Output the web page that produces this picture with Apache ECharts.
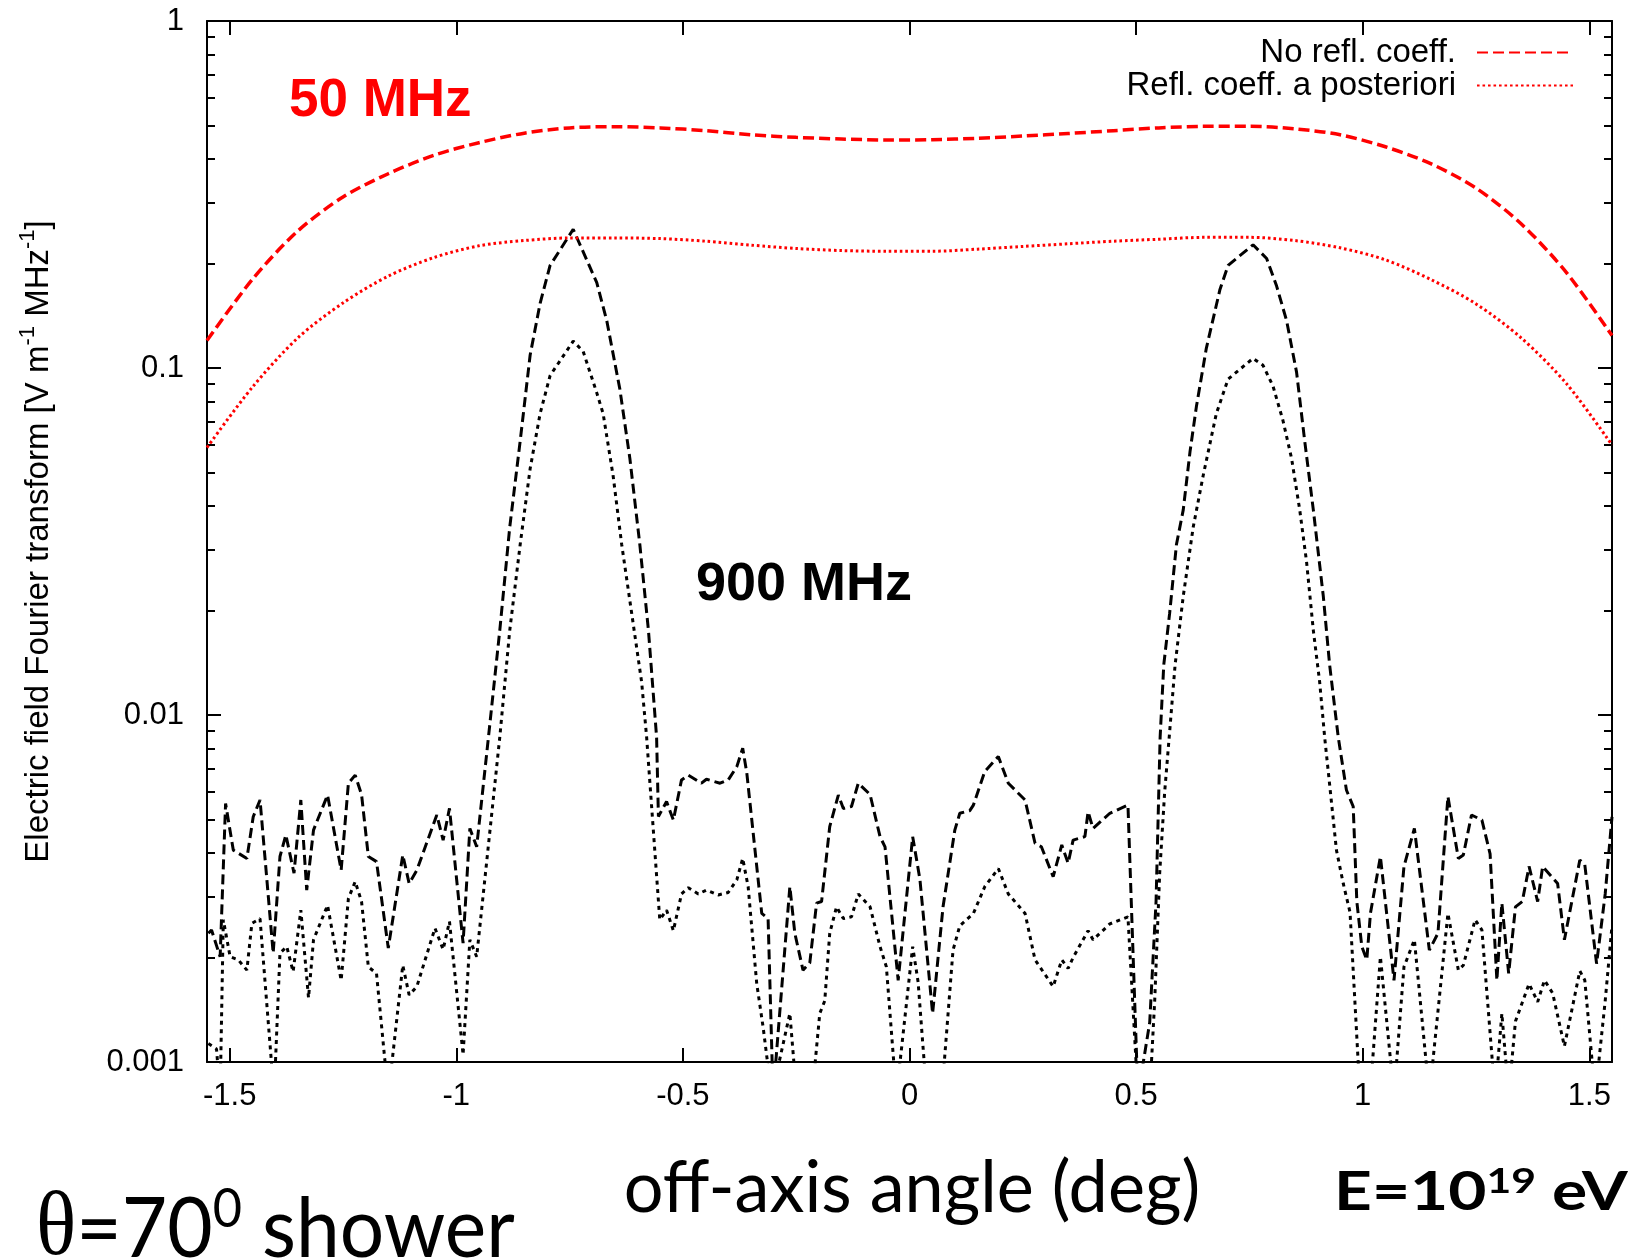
<!DOCTYPE html>
<html>
<head>
<meta charset="utf-8">
<script src="https://cdn.jsdelivr.net/npm/echarts@6/dist/echarts.min.js"></script>
<style>
html,body{margin:0;padding:0;background:#ffffff;}
#chart{width:1630px;height:1258px;}
</style>
</head>
<body>
<div id="chart"></div>
<script>
// ---------------- data ----------------
const xTickValues = [-1.5, -1, -0.5, 0, 0.5, 1, 1.5];
const yMajorTicks = [0.001, 0.01, 0.1, 1];
const yTickLabels = ['0.001', '0.01', '0.1', '1'];
const yMinorTicks = [0.002,0.003,0.004,0.005,0.006,0.007,0.008,0.009,
                     0.02,0.03,0.04,0.05,0.06,0.07,0.08,0.09,
                     0.2,0.3,0.4,0.5,0.6,0.7,0.8,0.9];

// 50 MHz curves (smooth)
const angle50 = [-1.55,-1.45,-1.35,-1.25,-1.15,-1.05,-0.95,-0.85,-0.75,-0.65,-0.55,-0.45,-0.35,-0.25,-0.15,-0.05,
                 0.05,0.15,0.25,0.35,0.45,0.55,0.65,0.75,0.85,0.95,1.05,1.15,1.25,1.35,1.45,1.55];
const noRefl50 = [0.120,0.180,0.248,0.311,0.363,0.410,0.446,0.475,0.492,0.496,0.492,0.483,0.470,0.462,0.457,0.454,
                  0.455,0.459,0.466,0.474,0.483,0.492,0.497,0.497,0.489,0.470,0.434,0.388,0.330,0.260,0.188,0.124];
const refl50   = [0.059,0.088,0.122,0.154,0.184,0.208,0.225,0.233,0.237,0.237,0.236,0.232,0.226,0.221,0.218,0.217,
                  0.217,0.220,0.224,0.228,0.232,0.235,0.238,0.238,0.233,0.222,0.205,0.180,0.153,0.122,0.090,0.060];

// 900 MHz, no reflection coefficient (dashed black)
const angle900NoRefl = [-1.547,-1.540,-1.521,-1.509,-1.492,-1.462,-1.448,-1.433,-1.404,-1.389,-1.376,-1.358,-1.343,-1.330,-1.315,-1.284,
  -1.254,-1.238,-1.223,-1.209,-1.194,-1.176,-1.150,-1.118,-1.104,-1.087,-1.043,-1.029,-1.015,-0.985,-0.970,-0.955,
  -0.929,-0.904,-0.882,-0.859,-0.837,-0.815,-0.793,-0.742,-0.690,-0.668,-0.639,-0.617,-0.595,-0.576,-0.558,-0.554,
  -0.536,-0.521,-0.503,-0.488,-0.459,-0.448,-0.418,-0.400,-0.381,-0.368,-0.359,-0.326,-0.312,-0.301,-0.264,-0.253,
  -0.235,-0.220,-0.205,-0.194,-0.176,-0.157,-0.146,-0.128,-0.113,-0.087,-0.065,-0.054,-0.025,0.007,0.023,0.051,
  0.074,0.100,0.111,0.133,0.141,0.166,0.196,0.218,0.255,0.277,0.291,0.317,0.336,0.350,0.361,0.387,
  0.394,0.405,0.442,0.482,0.504,0.530,0.544,0.553,0.561,0.574,0.589,0.604,0.619,0.633,0.655,0.685,
  0.703,0.758,0.788,0.810,0.832,0.854,0.872,0.891,0.913,0.927,0.946,0.964,0.979,0.987,0.998,1.009,
  1.017,1.039,1.069,1.091,1.114,1.147,1.166,1.188,1.211,1.222,1.240,1.263,1.281,1.296,1.307,1.322,
  1.337,1.352,1.367,1.386,1.397,1.430,1.445,1.479,1.490,1.516,1.535,1.550];
const value900NoRefl = [0.00235,0.0024,0.00201,0.00556,0.00408,0.00386,0.00509,0.00569,0.00206,0.00391,0.00451,0.0035,0.00569,0.00313,0.00466,0.00588,
  0.00357,0.00636,0.00671,0.0059,0.00391,0.00378,0.00213,0.00395,0.00327,0.00357,0.00515,0.00436,0.00538,0.0022,0.00471,0.00417,
  0.00863,0.01754,0.0348,0.0616,0.109,0.1536,0.1975,0.251,0.1762,0.137,0.0868,0.0549,0.031,0.01754,0.00863,0.0051,
  0.00563,0.00498,0.0065,0.00671,0.00636,0.00653,0.00636,0.0065,0.0071,0.00802,0.00681,0.00268,0.00259,0.0008,0.0032,0.00235,
  0.00184,0.00193,0.00287,0.0029,0.00477,0.00588,0.00538,0.00545,0.00636,0.0059,0.00446,0.00417,0.00172,0.00446,0.00336,0.00138,
  0.0028,0.00466,0.00521,0.0053,0.0055,0.00687,0.00759,0.00636,0.00569,0.00427,0.00417,0.00342,0.00422,0.00374,0.00436,0.00446,
  0.00526,0.00471,0.00521,0.0055,0.0008,0.0013,0.0029,0.00863,0.01394,0.01965,0.031,0.039,0.0575,0.0774,0.1141,0.1684,
  0.1975,0.2265,0.2068,0.1722,0.137,0.0973,0.0616,0.039,0.022,0.01394,0.00863,0.00608,0.00545,0.0029,0.00215,0.00197,
  0.00268,0.00391,0.00172,0.00366,0.00471,0.0021,0.00235,0.00582,0.00386,0.00395,0.00515,0.00498,0.00398,0.00172,0.00287,0.0018,
  0.0028,0.0029,0.00366,0.0029,0.00366,0.00327,0.00225,0.00382,0.0037,0.00192,0.00305,0.00509];

// 900 MHz, reflection coefficient a posteriori (dotted black)
const angle900Refl = [-1.547,-1.529,-1.521,-1.514,-1.499,-1.481,-1.462,-1.451,-1.433,-1.402,-1.389,-1.374,-1.360,-1.343,-1.326,-1.315,
  -1.284,-1.254,-1.238,-1.223,-1.209,-1.194,-1.176,-1.150,-1.118,-1.104,-1.087,-1.047,-1.029,-1.015,-0.985,-0.970,
  -0.955,-0.904,-0.882,-0.859,-0.837,-0.815,-0.793,-0.742,-0.720,-0.690,-0.676,-0.654,-0.635,-0.613,-0.591,-0.580,
  -0.551,-0.536,-0.521,-0.503,-0.488,-0.466,-0.448,-0.422,-0.400,-0.381,-0.368,-0.356,-0.337,-0.323,-0.304,-0.264,
  -0.249,-0.215,-0.198,-0.187,-0.176,-0.161,-0.146,-0.128,-0.113,-0.087,-0.065,-0.051,-0.029,0.007,0.019,0.038,
  0.071,0.096,0.111,0.141,0.166,0.196,0.218,0.255,0.277,0.317,0.336,0.350,0.361,0.394,0.405,0.442,
  0.482,0.504,0.530,0.541,0.552,0.563,0.573,0.586,0.604,0.626,0.648,0.677,0.703,0.758,0.780,0.802,
  0.824,0.843,0.861,0.876,0.891,0.905,0.916,0.927,0.942,0.957,0.972,0.994,1.016,1.039,1.069,1.091,
  1.114,1.147,1.188,1.211,1.222,1.248,1.263,1.292,1.307,1.322,1.337,1.367,1.386,1.401,1.419,1.445,
  1.479,1.490,1.513,1.535,1.550];
const value900Refl = [0.00113,0.00109,0.0008,0.00257,0.00201,0.00197,0.00184,0.00251,0.00259,0.0008,0.00206,0.00215,0.00182,0.00274,0.00153,0.00225,
  0.00283,0.00172,0.00296,0.00331,0.0029,0.00188,0.0018,0.0008,0.0019,0.00156,0.00165,0.00243,0.00211,0.00254,0.00105,0.00225,
  0.00201,0.00863,0.01754,0.031,0.0513,0.0739,0.0951,0.1195,0.1116,0.0848,0.0739,0.049,0.031,0.01965,0.01244,0.00863,
  0.00257,0.00274,0.00239,0.00305,0.00318,0.00305,0.00313,0.00303,0.00308,0.00335,0.00386,0.0032,0.00168,0.00126,0.0008,0.00138,
  0.0008,0.0008,0.00138,0.0015,0.00235,0.0028,0.00259,0.00262,0.00305,0.0028,0.00215,0.00188,0.0008,0.00215,0.0017,0.0008,
  0.0008,0.0021,0.00247,0.00268,0.0032,0.00361,0.00305,0.00268,0.00197,0.00165,0.00197,0.00186,0.002,0.00239,0.00225,0.0025,
  0.00262,0.0008,0.0008,0.0015,0.0035,0.006,0.00863,0.01394,0.022,0.0348,0.049,0.0739,0.0929,0.1066,0.1018,0.0887,
  0.0706,0.0549,0.039,0.0277,0.01754,0.01244,0.00863,0.0063,0.00408,0.00327,0.0027,0.0008,0.0008,0.00201,0.0008,0.00188,
  0.00225,0.0008,0.00268,0.00184,0.0019,0.00257,0.0024,0.0008,0.00138,0.0008,0.00131,0.00168,0.00149,0.00172,0.00158,0.00111,
  0.00183,0.00172,0.0008,0.0015,0.00247];

// ---------------- chart ----------------
const FONT = '"Liberation Sans", Arial, Helvetica, sans-serif';
const zip = (xs, ys) => xs.map((x, i) => [x, ys[i]]);

const frame = { onZero: false, lineStyle: { color: '#000', width: 2 } };
const noLine = { show: false, onZero: false };
const majorTick = { inside: true, length: 14, lineStyle: { color: '#000', width: 2 } };
const minorTick = { inside: true, length: 8, lineStyle: { color: '#000', width: 2 } };

const chart = echarts.init(document.getElementById('chart'), null, { renderer: 'canvas' });
chart.setOption({
  animation: false,
  backgroundColor: '#ffffff',
  grid: { left: 207, right: 18, top: 21, bottom: 196, containLabel: false },
  xAxis: [
    { type: 'value', min: -1.55, max: 1.55, position: 'bottom',
      axisLine: frame,
      axisTick: Object.assign({ customValues: xTickValues }, majorTick),
      axisLabel: { customValues: xTickValues, fontSize: 31, color: '#000', fontFamily: FONT, margin: 19 },
      splitLine: { show: false } },
    { type: 'value', min: -1.55, max: 1.55, position: 'top',
      axisLine: frame,
      axisTick: Object.assign({ customValues: xTickValues }, majorTick),
      axisLabel: { show: false }, splitLine: { show: false } }
  ],
  yAxis: [
    { type: 'log', logBase: 10, min: 0.001, max: 1, position: 'left',
      axisLine: frame,
      axisTick: Object.assign({ customValues: yMajorTicks }, majorTick),
      axisLabel: { customValues: yMajorTicks, fontSize: 31, color: '#000', fontFamily: FONT, margin: 23,
                   formatter: v => yTickLabels[Math.round(Math.log10(v)) + 3] },
      splitLine: { show: false },
      name: 'Electric field Fourier transform [V m{sup|-1} MHz{sup|-1}]',
      nameLocation: 'middle', nameRotate: 90, nameGap: 146,
      nameTextStyle: { fontSize: 33, color: '#000', fontFamily: FONT, lineHeight: 44,
        rich: { sup: { fontSize: 22, lineHeight: 22, verticalAlign: 'top', color: '#000', fontFamily: FONT } } } },
    { type: 'log', logBase: 10, min: 0.001, max: 1, position: 'left',
      axisLine: noLine,
      axisTick: Object.assign({ customValues: yMinorTicks }, minorTick),
      axisLabel: { show: false }, splitLine: { show: false } },
    { type: 'log', logBase: 10, min: 0.001, max: 1, position: 'right',
      axisLine: frame,
      axisTick: Object.assign({ customValues: yMajorTicks }, majorTick),
      axisLabel: { show: false }, splitLine: { show: false } },
    { type: 'log', logBase: 10, min: 0.001, max: 1, position: 'right',
      axisLine: noLine,
      axisTick: Object.assign({ customValues: yMinorTicks }, minorTick),
      axisLabel: { show: false }, splitLine: { show: false } }
  ],
  legend: {
    data: ['No refl. coeff.', 'Refl. coeff. a posteriori'],
    orient: 'vertical', right: 56, top: 36, align: 'right', padding: 0,
    itemWidth: 96, itemHeight: 14, itemGap: 0,
    selectedMode: false,
    itemStyle: { opacity: 0 },
    formatter: name => '{a|' + name + '}',
    textStyle: { fontSize: 33, color: '#000', fontFamily: FONT, lineHeight: 33,
      rich: { a: { fontSize: 33, color: '#000', fontFamily: FONT, lineHeight: 33, padding: [0, 16, 0, 0] } } }
  },
  series: [
    { name: '900 MHz no refl.', type: 'line', xAxisIndex: 0, yAxisIndex: 0,
      data: zip(angle900NoRefl, value900NoRefl), symbol: 'none', clip: true,
      lineStyle: { color: '#000', width: 3, type: [10, 5] } },
    { name: '900 MHz refl.', type: 'line', xAxisIndex: 0, yAxisIndex: 0,
      data: zip(angle900Refl, value900Refl), symbol: 'none', clip: true,
      lineStyle: { color: '#000', width: 3, type: [4, 4.5] } },
    { name: 'No refl. coeff.', type: 'line', xAxisIndex: 0, yAxisIndex: 0,
      data: zip(angle50, noRefl50), symbol: 'none', smooth: 0.3, clip: true,
      color: '#ff0000',
      lineStyle: { color: '#ff0000', width: 3.5, type: [11, 5] } },
    { name: 'Refl. coeff. a posteriori', type: 'line', xAxisIndex: 0, yAxisIndex: 0,
      data: zip(angle50, refl50), symbol: 'none', smooth: 0.3, clip: true,
      color: '#ff0000',
      lineStyle: { color: '#ff0000', width: 3, type: [2.6, 2.9] } }
  ],
  graphic: [
    { type: 'text', x: 289, y: 101, z: 100,
      style: { text: '50 MHz', fill: '#ff0000', fontSize: 53, fontWeight: 'bold', fontFamily: FONT,
               align: 'left', verticalAlign: 'middle' } },
    { type: 'text', x: 696, y: 585, z: 100,
      style: { text: '900 MHz', fill: '#000', fontSize: 54, fontWeight: 'bold', fontFamily: FONT,
               align: 'left', verticalAlign: 'middle' } },
    { type: 'text', x: 912, y: 1189, scaleX: 0.975, z: 100,
      style: { text: 'off-axis angle (deg)', fill: '#000', fontSize: 72, fontFamily: 'Lato, "Open Sans", sans-serif',
               align: 'center', verticalAlign: 'middle' } },
    { type: 'text', x: 36, y: 1230, scaleX: 0.934, z: 100,
      style: { text: '{t|θ}{n|=70}{s|0}{n| shower}', fill: '#000', fontSize: 84, fontFamily: 'Lato, sans-serif',
               align: 'left', verticalAlign: 'middle',
               rich: { t: { fontSize: 90, fontFamily: '"Liberation Serif", "DejaVu Serif", serif', lineHeight: 94 },
                       n: { fontSize: 84, fontFamily: 'Lato, sans-serif', lineHeight: 94 },
                       s: { fontSize: 54, fontFamily: 'Lato, sans-serif', lineHeight: 54, verticalAlign: 'top' } } } },
    { type: 'text', x: 1334, y: 1193, scaleX: 1.22, z: 100,
      style: { text: '{n|E=10}{s|19}{n| eV}', fill: '#000', fontSize: 54, fontWeight: 'bold', fontFamily: 'Lato, sans-serif',
               align: 'left', verticalAlign: 'middle',
               rich: { n: { fontSize: 54, fontWeight: 'bold', fontFamily: 'Lato, sans-serif', lineHeight: 58 },
                       s: { fontSize: 35, fontWeight: 'bold', fontFamily: 'Lato, sans-serif', lineHeight: 35, verticalAlign: 'top' } } } }
  ]
});
</script>
</body>
</html>
